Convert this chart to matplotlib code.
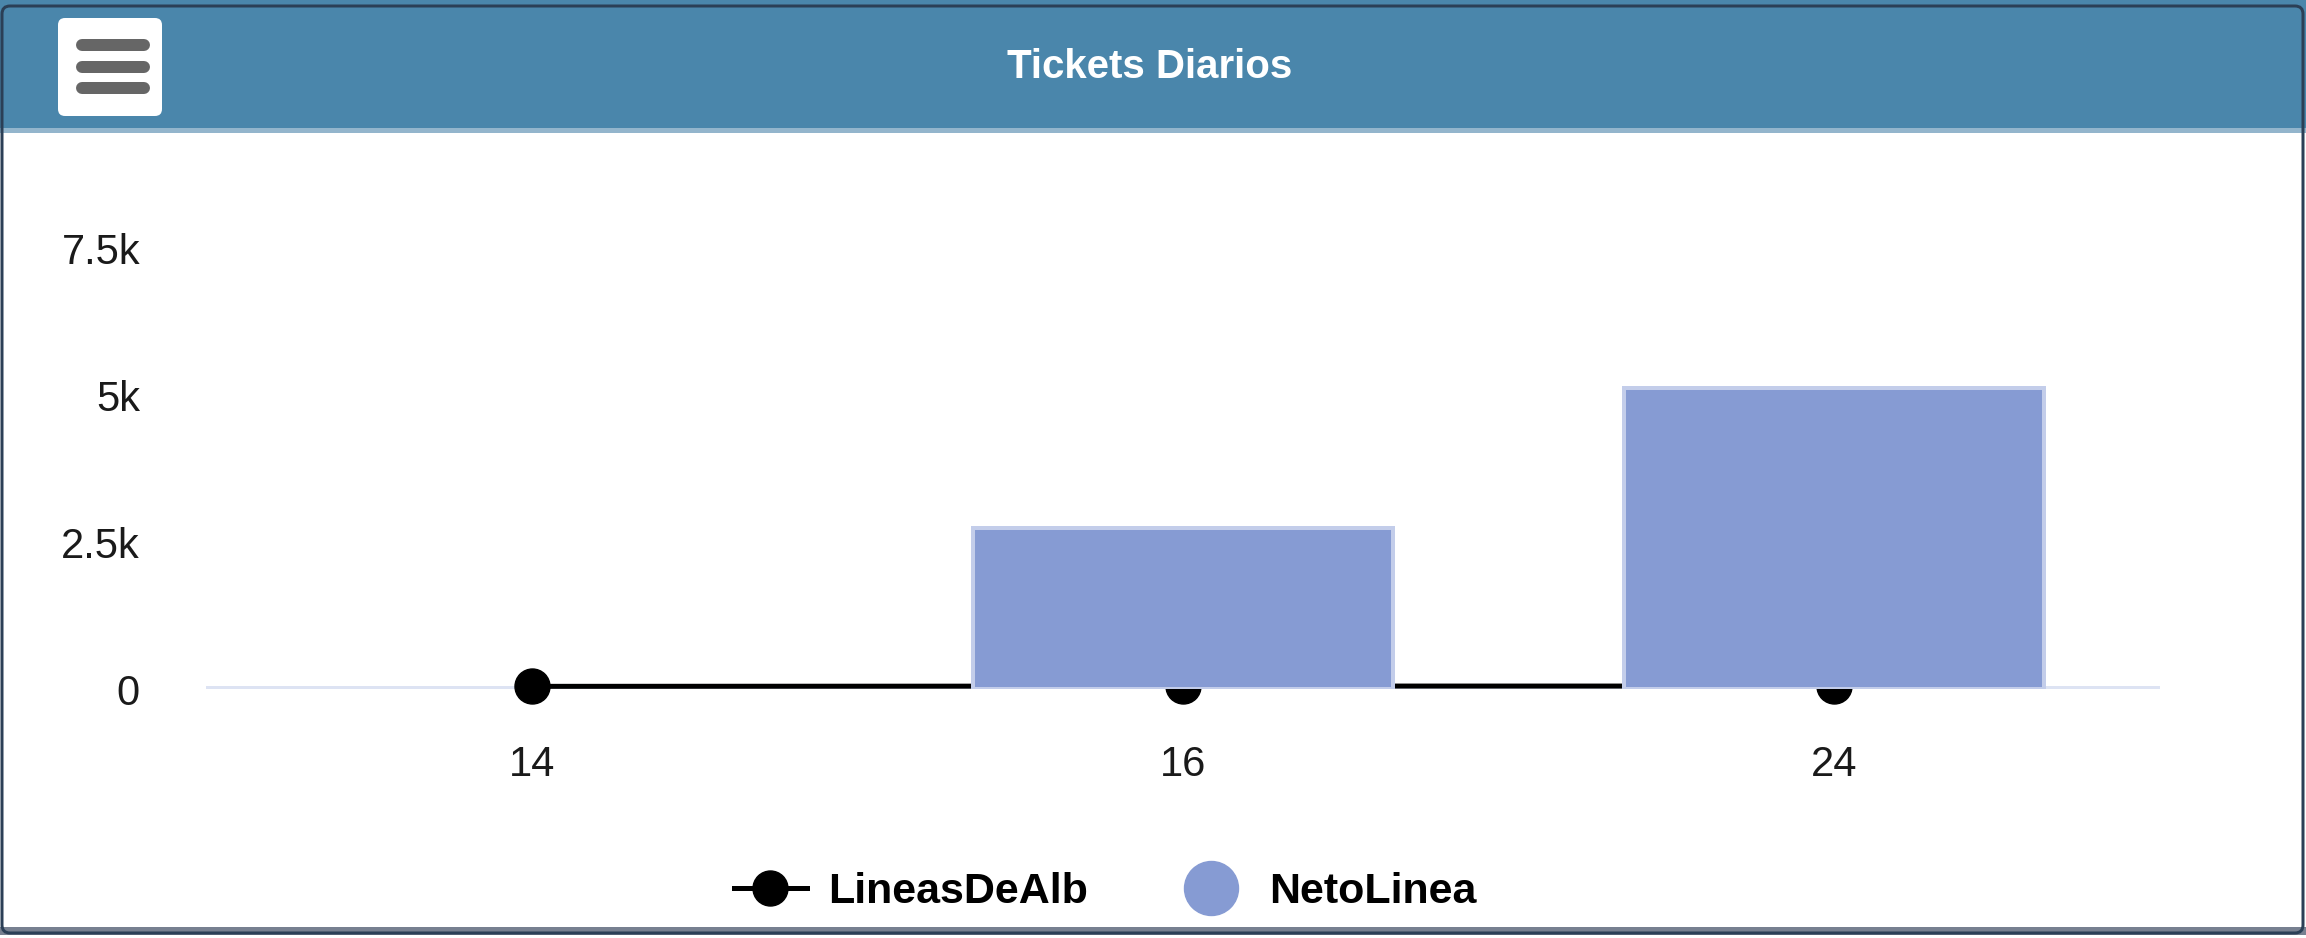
import matplotlib
matplotlib.use("Agg")
import matplotlib.pyplot as plt
from matplotlib.lines import Line2D
from matplotlib.patches import FancyBboxPatch, Rectangle
from matplotlib.ticker import FuncFormatter

# data
dias = ["14", "16", "24"]
lineas_de_alb = [45, 50, 50]
neto_linea = [0, 2740, 5120]
y_ticks = [0, 2500, 5000, 7500]

HEADER = "#4a86ab"
BAR = "#869bd3"
BAR_EDGE = "#c3cdea"
BASE = "#dde3f3"

plt.rcParams["font.family"] = ["Liberation Sans", "DejaVu Sans"]

W, H, DPI = 2306, 938, 100
fig = plt.figure(figsize=(W / DPI, H / DPI), dpi=DPI, facecolor="white")
px = 72 / DPI  # points per pixel

# --- card decoration in pixel coords ---
bg = fig.add_axes([0, 0, 1, 1], zorder=0)
bg.set_xlim(0, W)
bg.set_ylim(H, 0)
bg.axis("off")
bg.add_patch(Rectangle((0, 0), W, 128, color=HEADER, lw=0))
bg.add_patch(Rectangle((0, 128), W, 5, color="#93b5cc", lw=0))
bg.add_patch(Rectangle((0, 927), W, 8, color="#778090", lw=0))
bg.add_patch(FancyBboxPatch((2, 6), W - 5, 927, boxstyle="round,pad=0,rounding_size=8",
                            fc="none", ec="#2b3f56", lw=3 * px))
bg.add_patch(FancyBboxPatch((58, 18), 104, 98, boxstyle="round,pad=0,rounding_size=7",
                            fc="white", ec="none"))
for yy in (45, 67, 88):
    bg.plot([82, 144], [yy, yy], color="#666666", lw=12 * px, solid_capstyle="round")
fig.text(1150 / W, 1 - 67 / H, "Tickets Diarios", color="white", fontsize=29,
         fontweight="bold", ha="center", va="center")

# --- plot area ---
left, right, top, bottom = 206, 2160, 130, 689
ax = fig.add_axes([left / W, 1 - bottom / H, (right - left) / W, (bottom - top) / H],
                  zorder=1)
ax.patch.set_alpha(0)
x = list(range(len(dias)))

ax.axhline(0, color=BASE, lw=6 * px, zorder=1)
ax.plot(x, lineas_de_alb, color="black", lw=5 * px, marker="o",
        markersize=35 * px, zorder=2, clip_on=False)
bx = [i for i, v in zip(x, neto_linea) if v > 0]
bv = [v for v in neto_linea if v > 0]
ax.bar(bx, bv, width=0.645, color=BAR, edgecolor=BAR_EDGE,
       linewidth=4 * px, zorder=3)

ax.set_xlim(-0.5, len(dias) - 0.5)
ax.set_ylim(0, (bottom - top) / 146.8 * 2500)
ax.set_xticks(x)
ax.set_xticklabels(dias)
ax.set_yticks(y_ticks)
ax.yaxis.set_major_formatter(
    FuncFormatter(lambda v, _: "0" if v == 0 else f"{v / 1000:g}k"))
ax.tick_params(axis="both", length=0, labelsize=30, colors="#1a1a1a")
ax.tick_params(axis="y", pad=66 * px)
ax.tick_params(axis="x", pad=56 * px)
for s in ax.spines.values():
    s.set_visible(False)

handles = [
    Line2D([], [], color="black", lw=5 * px, marker="o", markersize=35 * px),
    Line2D([], [], color=BAR, lw=0, marker="o", markersize=54 * px),
]
fig.legend(handles, ["LineasDeAlb", "NetoLinea"], loc="center",
           bbox_to_anchor=(1105 / W, 1 - 892 / H), ncol=2, frameon=False,
           prop={"size": 31, "weight": "bold"}, handlelength=1.7,
           handletextpad=0.5, columnspacing=2.0, borderpad=0)

fig.savefig("out.png", dpi=DPI, facecolor="white")
